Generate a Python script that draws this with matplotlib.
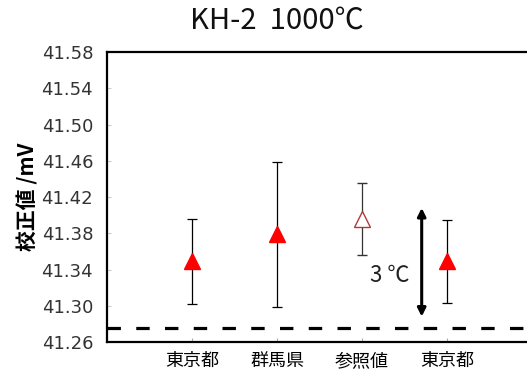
import matplotlib.pyplot as plt

plt.rcParams['font.family'] = ['Noto Sans CJK JP', 'DejaVu Sans']

# datos
categories = ['東京都', '群馬県', '参照値', '東京都']
values = [41.349, 41.379, 41.396, 41.349]
errors = [0.047, 0.080, 0.040, 0.046]
ref_line = 41.275
arrow_top = 41.408
arrow_bottom = 41.288
yticks = [41.26, 41.30, 41.34, 41.38, 41.42, 41.46, 41.50, 41.54, 41.58]

fig = plt.figure(figsize=(5.27, 3.74), dpi=100)
ax = fig.add_axes([0.203, 0.0856, 0.807, 0.775])

x = list(range(1, len(categories) + 1))

# puntos medidos (triángulos rellenos) y valor de referencia (hueco)
for xi, v, e, cat in zip(x, values, errors, categories):
    if cat == '参照値':
        ax.errorbar(xi, v, yerr=e, fmt='^', ms=11, mfc='white', mec='#b03a3a',
                    mew=1.0, ecolor='#333333', elinewidth=0.9, capsize=3.5, capthick=0.9)
    else:
        ax.errorbar(xi, v, yerr=e, fmt='^', ms=11, color='red',
                    ecolor='black', elinewidth=0.9, capsize=3.5, capthick=0.9)

# línea discontinua
ax.axhline(ref_line, color='black', lw=2.3, dashes=(4.2, 4.8))

# flecha de 3 ℃
ax.annotate('', xy=(3.70, arrow_top), xytext=(3.70, arrow_bottom),
            arrowprops=dict(arrowstyle='<|-|>', color='black', lw=2.2,
                            mutation_scale=12, shrinkA=0, shrinkB=0))
ax.text(3.33, 41.333, '3 ℃', fontsize=16, ha='center', va='center', color='#222222')

ax.set_xlim(0, 5)
ax.set_ylim(41.26, 41.58)
ax.set_xticks(x)
ax.set_xticklabels(categories, fontsize=13)
ax.set_yticks(yticks)
ax.set_yticklabels([f'{t:.2f}' for t in yticks], fontsize=13, color='#333333',
                   family='DejaVu Sans')
ax.tick_params(axis='y', direction='in', length=3, color='#cccccc', pad=10)
ax.tick_params(axis='x', direction='in', length=3, color='#aaaaaa', pad=7)

for s in ['left', 'top', 'bottom']:
    ax.spines[s].set_linewidth(1.6)
ax.spines['right'].set_visible(False)

ax.set_ylabel('校正値 /mV', fontsize=15, fontweight='bold', labelpad=2)
fig.text(0.525, 0.945, 'KH-2  1000℃', fontsize=21, ha='center', va='center',
         color='#111111')

plt.savefig('out.png', dpi=100)
